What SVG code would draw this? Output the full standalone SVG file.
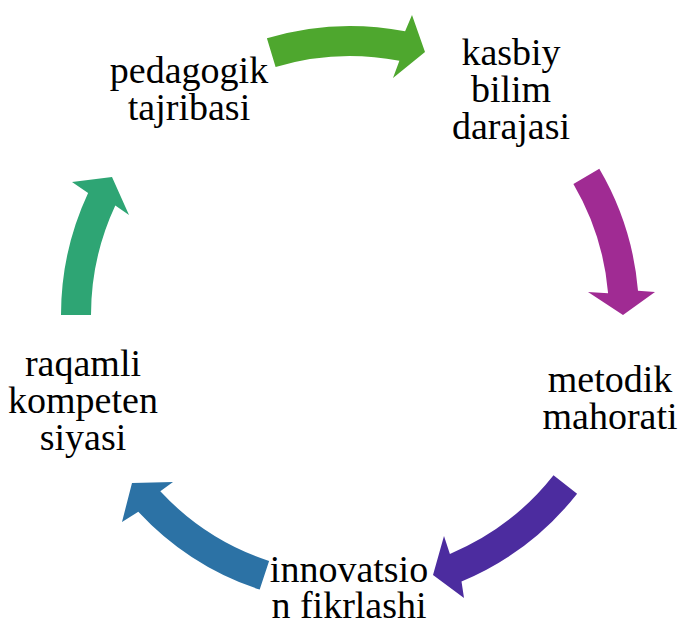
<svg xmlns="http://www.w3.org/2000/svg" width="680" height="624" viewBox="0 0 680 624">
<style>
.t{font-family:"Liberation Serif","Times New Roman",serif;font-size:38px;fill:#000;text-anchor:middle}
</style>
<rect width="680" height="624" fill="#fff"/>
<g id="connectors">
<path id="arrow-1" fill="#4EA72E" d="M 266.9 38.2 A 289 289 0 0 1 405.1 31.3 L 412 15 L 425 52 L 393 78 L 399.4 60.8 A 259 259 0 0 0 275.6 66.9 Z"/>
<path id="arrow-2" fill="#A02B93" d="M 599.3 168.8 A 289 289 0 0 1 638 290.8 L 655 292 L 623 315 L 588 292 L 608.1 293.3 A 259 259 0 0 0 573.4 183.9 Z"/>
<path id="arrow-3" fill="#4C2C9F" d="M 577.1 493.7 A 289 289 0 0 1 461.5 581.6 L 464 598 L 433 575 L 444 536 L 449.9 553.9 A 259 259 0 0 0 553.5 475.2 Z"/>
<path id="arrow-4" fill="#2C72A5" d="M 259.7 589.6 A 289 289 0 0 1 138.3 511.7 L 122 522 L 132 483 L 173 482 L 160.3 491.3 A 259 259 0 0 0 269.1 561 Z"/>
<path id="arrow-5" fill="#2EA574" d="M 61 315 A 289 289 0 0 1 88.1 192.9 L 72 182 L 112 177 L 129 215 L 115.3 205.5 A 259 259 0 0 0 91 315 Z"/>
</g>
<g id="node-pedagogik" class="t">
<text x="189" y="83">pedagogik</text>
<text x="189" y="120">tajribasi</text>
</g>
<g id="node-kasbiy" class="t">
<text x="511" y="65">kasbiy</text>
<text x="511" y="102">bilim</text>
<text x="511" y="139">darajasi</text>
</g>
<g id="node-metodik" class="t">
<text x="610" y="392">metodik</text>
<text x="610" y="429">mahorati</text>
</g>
<g id="node-innovatsion" class="t">
<text x="349" y="582">innovatsio</text>
<text x="349" y="618">n fikrlashi</text>
</g>
<g id="node-raqamli" class="t">
<text x="83" y="376">raqamli</text>
<text x="83" y="413">kompeten</text>
<text x="83" y="450">siyasi</text>
</g>
</svg>
